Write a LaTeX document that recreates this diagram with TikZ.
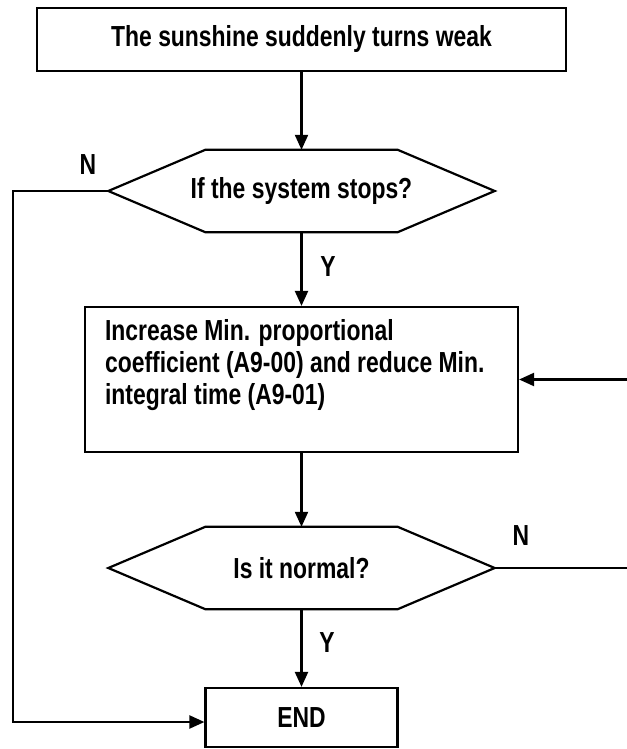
\documentclass[tikz,border=0pt]{standalone}
\usepackage{fontspec}
\setmainfont{Liberation Sans}[FakeStretch=0.79]
\usetikzlibrary{arrows.meta}
\tikzset{
  every node/.style={font=\fontsize{29}{32}\selectfont\bfseries, inner sep=0pt},
  boxnode/.style={draw, line width=2.2pt, rectangle},
  decnode/.style={draw=none, rectangle, minimum width=386pt, minimum height=82pt},
  hexline/.style={line width=2.2pt, line join=miter},
  conn/.style={line width=2.2pt, -{Triangle[length=15pt,width=13pt]}},
  lbl/.style={anchor=center}
}
\begin{document}
\begin{tikzpicture}[x=1pt,y=-1pt]
\useasboundingbox (0,0) rectangle (626,749);
\fill[white] (0,0) rectangle (626,749);

\node[boxnode, minimum width=529pt, minimum height=63pt] (top) at (301.5,39.5) {The sunshine suddenly turns weak};

\node[decnode] (d1) at (301.5,191) {If the system stops?};
\draw[hexline] (d1.west) -- ([xshift=97pt]d1.north west) -- ([xshift=-97pt]d1.north east) -- (d1.east) -- ([xshift=-97pt]d1.south east) -- ([xshift=97pt]d1.south west) -- cycle;

\node[boxnode, minimum width=433pt, minimum height=145pt] (proc) at (301.5,379.5) {};
\node[anchor=west, align=left] (ptext) at ([xshift=21pt, yshift=14.5pt]proc.west)
  {Increase Min. proportional\\coefficient (A9-00) and reduce Min.\\integral time (A9-01)};

\node[decnode] (d2) at (301.5,568) {Is it normal?};
\draw[hexline] (d2.west) -- ([xshift=97pt]d2.north west) -- ([xshift=-97pt]d2.north east) -- (d2.east) -- ([xshift=-97pt]d2.south east) -- ([xshift=97pt]d2.south west) -- cycle;

\node[boxnode, minimum width=192pt, minimum height=59pt] (end) at (301.5,717.5) {END};

\node[lbl] (n1) at (88,165) {N};
\node[lbl] (y1) at (328,267) {Y};
\node[lbl] (n2) at (521,536) {N};
\node[lbl] (y2) at (327,643) {Y};

\coordinate (lc) at (13,722);
\coordinate (rc) at (629,568);

\draw[conn] (top.south) -- (d1.north);
\draw[conn] (d1.south) -- (proc.north);
\draw[conn] (proc.south) -- (d2.north);
\draw[conn] (d2.south) -- (end.north);
\draw[conn] (d1.west) -| (lc) -- (lc -| end.west);
\draw[conn] (d2.east) -- (rc) |- (proc.east);
\end{tikzpicture}
\end{document}
